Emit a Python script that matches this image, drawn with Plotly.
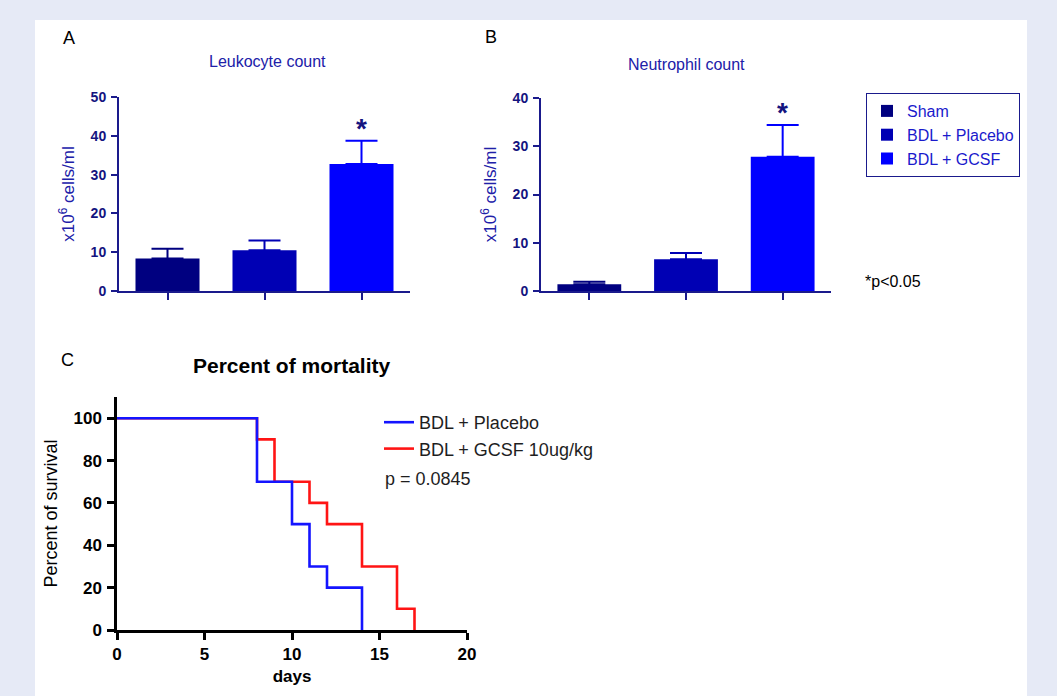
import plotly.graph_objects as go

W, H = 1057, 696

# ---- data ----
groups = ["Sham", "BDL + Placebo", "BDL + GCSF"]
group_colors = ["#000080", "#0000b4", "#0000ff"]
leuko_mean = [8.4, 10.5, 32.7]
leuko_err = [2.5, 2.5, 6.0]
neutro_mean = [1.4, 6.6, 27.8]
neutro_err = [0.5, 1.3, 6.6]

placebo_days = [0, 8, 10, 11, 12, 14]
placebo_surv = [100, 70, 50, 30, 20, 0]
gcsf_days = [0, 8, 9, 11, 12, 14, 16, 17]
gcsf_surv = [100, 90, 70, 60, 50, 30, 10, 0]

FONT = "Liberation Sans, Arial, sans-serif"
NAVY = "#14147f"
AXIS_NAVY = "#1a1a8c"
TITLE_BLUE = "#2020a8"


def px_x(p):
    return p / W


def px_y(p):
    return 1 - p / H


fig = go.Figure()

# ---- bar panels ----
for panel, (means, errs) in enumerate([(leuko_mean, leuko_err), (neutro_mean, neutro_err)]):
    xa = "x" if panel == 0 else "x2"
    ya = "y" if panel == 0 else "y2"
    for g, c, m, e in zip(groups, group_colors, means, errs):
        fig.add_trace(go.Bar(
            x=[g], y=[m], xaxis=xa, yaxis=ya, name=g,
            marker=dict(color=c, line=dict(width=0)),
            width=0.66,
            error_y=dict(type="data", symmetric=False, array=[e], arrayminus=[0],
                         color=c, thickness=2, width=16),
            showlegend=(panel == 1), legend="legend",
            legendgroup=(g if panel == 1 else None),
        ))
    # significance star over GCSF
    fig.add_annotation(x=groups[2], y=means[2] + errs[2], xref=xa, yref=ya,
                       text="<b>*</b>", showarrow=False, yanchor="bottom", yshift=-5,
                       font=dict(family=FONT, size=28, color=NAVY))

# ---- survival panel ----
fig.add_trace(go.Scatter(
    x=gcsf_days, y=gcsf_surv, xaxis="x3", yaxis="y3", mode="lines",
    line=dict(shape="hv", color="#ff1414", width=2.6),
    name="BDL + GCSF 10ug/kg", legend="legend2", legendrank=2, legendgroup="gcsf",
))
fig.add_trace(go.Scatter(
    x=placebo_days, y=placebo_surv, xaxis="x3", yaxis="y3", mode="lines",
    line=dict(shape="hv", color="#1414ff", width=2.6),
    name="BDL + Placebo", legend="legend2", legendrank=1, legendgroup="placebo",
))

bar_x_common = dict(type="category", range=[-0.5, 2.5], showline=True, linecolor=AXIS_NAVY,
                    linewidth=2, ticks="outside", ticklen=7, tickwidth=2, tickcolor=AXIS_NAVY,
                    showticklabels=False, showgrid=False, zeroline=False, fixedrange=True,
                    automargin=False)
bar_y_common = dict(showline=True, linecolor=AXIS_NAVY, linewidth=2, ticks="outside",
                    ticklen=6, tickwidth=2, tickcolor=AXIS_NAVY, showgrid=False,
                    zeroline=False, tickfont=dict(family=FONT, size=14, color=NAVY, weight="bold"),
                    ticklabelstandoff=2, automargin=False)

ytitle = dict(text="x10<sup>6</sup> cells/ml", font=dict(family=FONT, size=17, color=TITLE_BLUE),
              standoff=12)

fig.update_layout(
    width=W, height=H,
    margin=dict(l=0, r=0, t=0, b=0, autoexpand=False),
    paper_bgcolor="#e6eaf6",
    plot_bgcolor="rgba(0,0,0,0)",
    barmode="overlay",
    font=dict(family=FONT),
    xaxis=dict(domain=[px_x(119), px_x(410)], anchor="y", **bar_x_common),
    yaxis=dict(domain=[px_y(291), px_y(97)], anchor="x", range=[0, 50], dtick=10,
               title=ytitle, **bar_y_common),
    xaxis2=dict(domain=[px_x(541), px_x(831)], anchor="y2", **bar_x_common),
    yaxis2=dict(domain=[px_y(291), px_y(98)], anchor="x2", range=[0, 40], dtick=10,
                title=ytitle, **bar_y_common),
    xaxis3=dict(domain=[px_x(117), px_x(467)], anchor="y3", range=[0, 20], dtick=5,
                showline=True, linecolor="black", linewidth=2.5, ticks="outside", ticklen=7,
                tickwidth=2.5, tickcolor="black", showgrid=False, zeroline=False,
                automargin=False,
                tickfont=dict(family=FONT, size=17, color="black", weight="bold"),
                title=dict(text="<b>days</b>", font=dict(family=FONT, size=17, color="black"),
                           standoff=7)),
    yaxis3=dict(domain=[px_y(630), px_y(397)], anchor="x3", range=[0, 110],
                tickvals=[0, 20, 40, 60, 80, 100], showline=True, linecolor="black",
                linewidth=2.5, ticks="outside", ticklen=7, tickwidth=2.5, tickcolor="black",
                showgrid=False, zeroline=False, ticklabelstandoff=2, automargin=False,
                tickfont=dict(family=FONT, size=17, color="black", weight="bold"),
                title=dict(text="Percent of survival", font=dict(family=FONT, size=18, color="black"),
                           standoff=12)),
    legend=dict(x=px_x(866), y=px_y(93), xanchor="left", yanchor="top",
                bgcolor="white", bordercolor=AXIS_NAVY, borderwidth=1,
                font=dict(family=FONT, size=16, color="#1a1acc"),
                traceorder="grouped", tracegroupgap=0, itemsizing="constant"),
    legend2=dict(x=px_x(379), y=px_y(404), xanchor="left", yanchor="top",
                 bgcolor="rgba(0,0,0,0)", borderwidth=0,
                 traceorder="grouped", tracegroupgap=0,
                 font=dict(family=FONT, size=18, color="#1e1e1e")),
    shapes=[dict(type="rect", xref="paper", yref="paper", x0=px_x(35), x1=px_x(1027),
                 y0=0, y1=px_y(20), fillcolor="white", line=dict(width=0), layer="below")],
)

annos = [
    dict(text="A", x=69, y=38, size=18, color="black"),
    dict(text="B", x=491, y=37, size=18, color="black"),
    dict(text="C", x=67, y=360, size=18, color="black"),
    dict(text="Leukocyte count", x=267, y=61, size=16, color=TITLE_BLUE),
    dict(text="Neutrophil count", x=686, y=64, size=16, color=TITLE_BLUE),
    dict(text="<b>Percent of mortality</b>", x=292, y=365, size=21, color="black"),
    dict(text="*p<0.05", x=893, y=281, size=16, color="black"),
    dict(text="p = 0.0845", x=428, y=479, size=18, color="#1e1e1e"),
]
for a in annos:
    fig.add_annotation(text=a["text"], x=px_x(a["x"]), y=px_y(a["y"]), xref="paper", yref="paper",
                       showarrow=False, xanchor="center", yanchor="middle",
                       font=dict(family=FONT, size=a["size"], color=a["color"]))

fig.write_html(
    "out.html",
    config={"displayModeBar": False},
    post_script="document.body.style.margin='0';document.body.style.overflow='hidden';",
)
